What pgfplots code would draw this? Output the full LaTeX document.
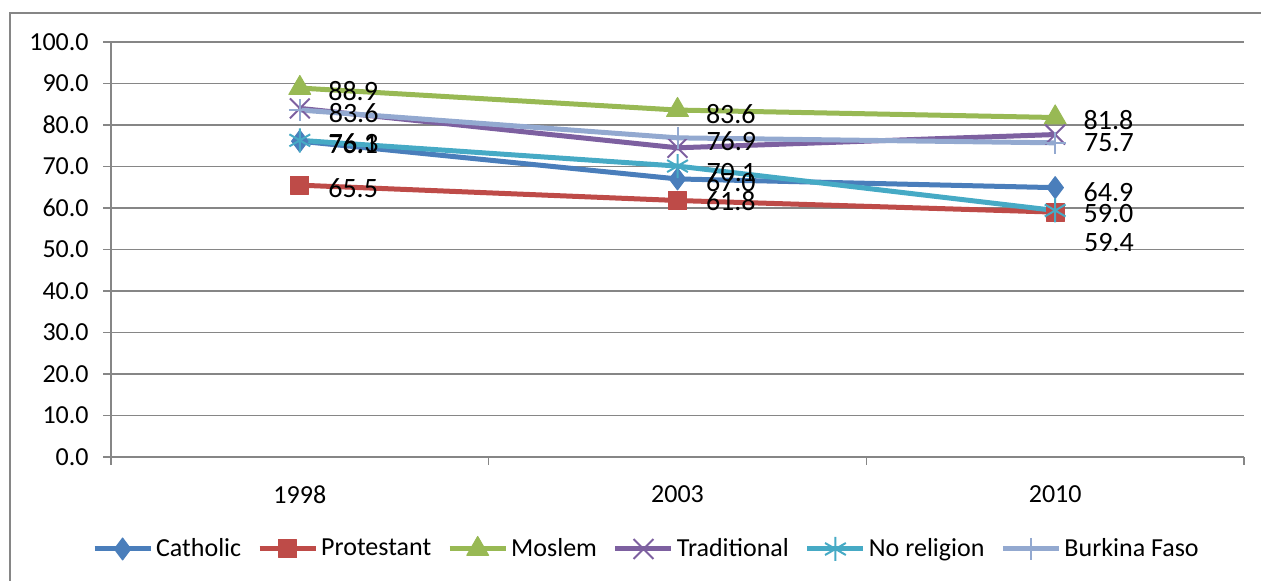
\documentclass[border=0pt]{standalone}
\usepackage{pgfplots}
\pgfplotsset{compat=1.18}
\usepackage{fontspec}
\setmainfont{Carlito}
\definecolor{axisgray}{HTML}{868686}
\definecolor{catholic}{HTML}{4A7EBB}
\definecolor{protestant}{HTML}{BE4B48}
\definecolor{moslem}{HTML}{98B954}
\definecolor{traditional}{HTML}{7D60A0}
\definecolor{noreligion}{HTML}{46AAC5}
\definecolor{burkina}{HTML}{93A9D0}
\pgfplotsset{
  lbl/.style={nodes near coords, point meta=explicit symbolic,
    visualization depends on={value \thisrow{dy} \as \dy},
    every node near coord/.append style={font=\fontsize{14}{16}\selectfont, black,
      anchor=west, inner sep=0pt, xshift=14pt, yshift=\dy pt}},
}
\begin{document}
\begin{tikzpicture}
\useasboundingbox (0,0) rectangle (630.5pt,290.5pt);
\draw[axisgray, line width=0.8pt] (5pt,0) -- (5pt,284pt) -- (631pt,284pt);
\begin{axis}[
  at={(55.5pt,62pt)}, anchor=south west,
  scale only axis, width=566.5pt, height=207.5pt,
  xmin=-0.5, xmax=2.5, ymin=0, ymax=100,
  ytick={0,10,...,100},
  xtick={-0.5,0.5,1.5,2.5}, xticklabels={},
  extra x ticks={0,1,2}, extra x tick labels={1998,2003,2010},
  extra x tick style={major tick length=0pt, grid=none},
  axis x line*=bottom, axis y line*=left,
  axis line style={line width=0.8pt, draw=axisgray},
  tick align=outside, major tick length=4pt,
  tick style={draw=axisgray, line width=0.8pt},
  ymajorgrids, grid style={line width=0.8pt, draw=axisgray},
  /pgf/number format/.cd, fixed, fixed zerofill, precision=1, assume math mode=true,
  /pgfplots/.cd,
  tick label style={font=\fontsize{13}{15}\selectfont, black},
  yticklabel style={inner sep=0pt, xshift=-7pt},
  xticklabel style={inner sep=0pt, yshift=-14pt},
  legend columns=6,
  legend style={at={(0.473,-0.2217)}, anchor=center, draw=none, fill=none,
    font=\fontsize{13}{15}\selectfont,
    /tikz/every even column/.append style={column sep=6.5pt},
    nodes={inner sep=1.5pt}},
  legend image code/.code={%
    \draw[mark repeat=2, mark phase=2] plot coordinates {(0pt,0pt) (14pt,0pt) (28pt,0pt)};},
  every axis plot/.append style={line width=2.5pt, line join=round},
]
% Catholic
\addplot[color=catholic, mark=diamond*, mark size=5.5pt, mark options={fill=catholic, line width=0.5pt}, lbl]
  table[x=x, y=y, meta=lab] {
x y lab dy
0 76.1 76.1 -1.5
1 67.0 67.0 -1.5
2 64.9 64.9 -2
};
\addlegendentry{Catholic}
% Protestant
\addplot[color=protestant, mark=square*, mark size=4.5pt, mark options={fill=protestant, line width=0.5pt}, lbl]
  table[x=x, y=y, meta=lab] {
x y lab dy
0 65.5 65.5 -1.5
1 61.8 61.8 -0.5
2 59.0 59.0 -0.5
};
\addlegendentry{Protestant}
% Moslem
\addplot[color=moslem, mark=triangle*, mark size=6.3pt, mark options={fill=moslem, line width=0.5pt}, lbl]
  table[x=x, y=y, meta=lab] {
x y lab dy
0 88.9 88.9 -1.5
1 83.6 83.6 -2
2 81.8 81.8 -1.5
};
\addlegendentry{Moslem}
% Traditional
\addplot[color=traditional, mark=x, mark size=7pt, mark options={line width=1pt}]
  table[x=x, y=y] {
x y
0 84.0
1 74.5
2 77.7
};
\addlegendentry{Traditional}
% No religion
\addplot[color=noreligion, mark=asterisk, mark size=6pt, mark options={line width=1pt}, lbl]
  table[x=x, y=y, meta=lab] {
x y lab dy
0 76.3 76.3 -1.5
1 70.1 70.1 -3
2 59.4 59.4 -16
};
\addlegendentry{No religion}
% Burkina Faso
\addplot[color=burkina, mark=+, mark size=5.5pt, mark options={line width=1pt}, lbl]
  table[x=x, y=y, meta=lab] {
x y lab dy
0 83.6 83.6 -1.5
1 76.9 76.9 -1.5
2 75.7 75.7 0
};
\addlegendentry{Burkina Faso}
\end{axis}
\end{tikzpicture}
\end{document}
